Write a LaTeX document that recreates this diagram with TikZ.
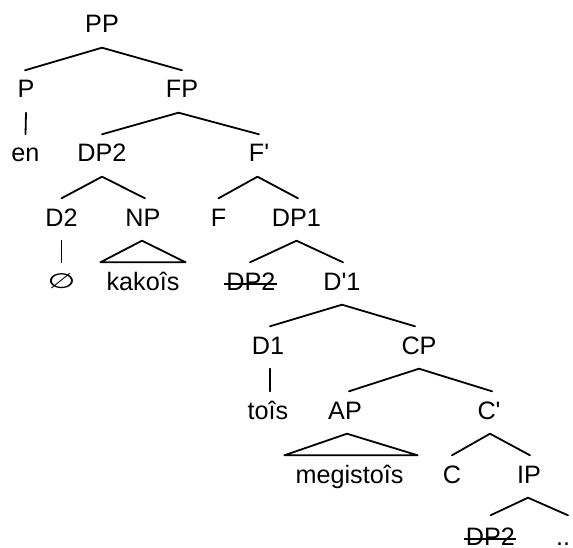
\documentclass[tikz,border=0pt]{standalone}
\usepackage{fontspec}
\setmainfont{Liberation Sans}
\newfontfamily\symfont{DejaVu Sans}
\begin{document}
\begin{tikzpicture}[x=1pt,y=-1pt,
  lbl/.style={anchor=base,inner sep=0pt,text height=17.5pt,text depth=0pt,
    font=\fontsize{25.2}{28}\selectfont},
  branch/.style={line width=1.8pt,line cap=round},
  strike/.style={line width=1.5pt}]
\useasboundingbox (0,0) rectangle (573,548);

% labels, placed on their baselines
\node[lbl] (pp)   at (102,33)   {PP};
\node[lbl] (p)    at (26,98)    {P};
\node[lbl] (fp)   at (182,98)   {FP};
\node[lbl] (en)   at (25.5,162) {en};
\node[lbl] (dpb)  at (102,162)  {DP2};
\node[lbl] (fbar) at (259,162)  {F\textquotesingle};
\node[lbl] (dtwo) at (61.5,226) {D2};
\node[lbl] (np)   at (143,226)  {NP};
\node[lbl] (f)    at (218.5,226){F};
\node[lbl] (dpa)  at (296.5,226){DP1};
\node[lbl] (nul)  at (61.5,288) {{\symfont\fontsize{20}{24}\selectfont\scalebox{1.6}[1.05]{∅}}};
\node[lbl] (kak)  at (143,290)  {kakoîs};
\node[lbl] (dpc)  at (251,290)  {DP2};
\node[lbl] (dbar) at (342,290)  {D\textquotesingle 1};
\node[lbl] (done) at (268,354)  {D1};
\node[lbl] (cp)   at (419,354)  {CP};
\node[lbl] (tois) at (268,419)  {toîs};
\node[lbl] (ap)   at (345,419)  {AP};
\node[lbl] (cbar) at (489,419)  {C\textquotesingle};
\node[lbl] (meg)  at (349.5,483){megistoîs};
\node[lbl] (c)    at (452,483)  {C};
\node[lbl] (ip)   at (529,483)  {IP};
\node[lbl] (dpd)  at (490.5,545){DP2};
\node[lbl] (dots) at (563,545)  {..};

% deleted copies
\draw[strike] ([xshift=-2pt,yshift=6pt]dpc.base west) -- ([xshift=1pt,yshift=6pt]dpc.base east);
\draw[strike] ([xshift=-2pt,yshift=6pt]dpd.base west) -- ([xshift=1pt,yshift=6pt]dpd.base east);

% branches
\draw[branch] ([yshift=-14.5pt]pp.south) -- ([yshift=10pt,xshift=-1pt]p.north);
\draw[branch] ([yshift=-14.5pt]pp.south) -- ([yshift=10pt]fp.north);
\draw[branch] ([yshift=-14.5pt]p.south) -- ([yshift=10pt]en.north);
\draw[branch] ([yshift=-14.5pt,xshift=-3.5pt]fp.south) -- ([yshift=10pt]dpb.north);
\draw[branch] ([yshift=-14.5pt,xshift=-3.5pt]fp.south) -- ([yshift=10pt]fbar.north);
\draw[branch] ([yshift=-14.5pt]dpb.south) -- ([yshift=10pt]dtwo.north);
\draw[branch] ([yshift=-14.5pt]dpb.south) -- ([yshift=10pt,xshift=2pt]np.north);
\draw[branch] ([yshift=-14.5pt,xshift=-1.5pt]fbar.south) -- ([yshift=10pt]f.north);
\draw[branch] ([yshift=-14.5pt,xshift=-1.5pt]fbar.south) -- ([yshift=10pt,xshift=1.5pt]dpa.north);
\draw[branch] ([yshift=-14.5pt]dtwo.south) -- ([yshift=8pt]nul.north);
\draw[branch] ([yshift=-14.5pt]dpa.south) -- ([yshift=10pt,xshift=-1pt]dpc.north);
\draw[branch] ([yshift=-14.5pt]dpa.south) -- ([yshift=10pt,xshift=1pt]dbar.north);
\draw[branch] ([yshift=-14.5pt]dbar.south) -- ([yshift=10pt,xshift=2pt]done.north);
\draw[branch] ([yshift=-14.5pt]dbar.south) -- ([yshift=10pt,xshift=-4pt]cp.north);
\draw[branch] ([yshift=-14.5pt,xshift=2pt]done.south) -- ([yshift=10pt,xshift=2pt]tois.north);
\draw[branch] ([yshift=-14.5pt]cp.south) -- ([yshift=10pt,xshift=4pt]ap.north);
\draw[branch] ([yshift=-14.5pt]cp.south) -- ([yshift=10pt,xshift=3pt]cbar.north);
\draw[branch] ([yshift=-14.5pt,xshift=1pt]cbar.south) -- ([yshift=10pt]c.north);
\draw[branch] ([yshift=-14.5pt,xshift=1pt]cbar.south) -- ([yshift=10pt,xshift=1pt]ip.north);
\draw[branch] ([yshift=-14.5pt,xshift=-1pt]ip.south) -- ([yshift=12pt]dpd.north);
\draw[branch] ([yshift=-14.5pt,xshift=-1pt]ip.south) -- ([yshift=12pt,xshift=5pt]dots.north);

% triangles over unanalysed phrases
\draw[branch,line join=round] ([yshift=-14.5pt,xshift=-1pt]np.south)
  -- ([yshift=10pt,xshift=-6pt]kak.north west)
  -- ([yshift=10pt,xshift=6pt]kak.north east) -- cycle;
\draw[branch,line join=round] ([yshift=-14.5pt,xshift=2pt]ap.south)
  -- ([yshift=10pt,xshift=-11pt]meg.north west)
  -- ([yshift=10pt,xshift=14pt]meg.north east) -- cycle;
\end{tikzpicture}
\end{document}
